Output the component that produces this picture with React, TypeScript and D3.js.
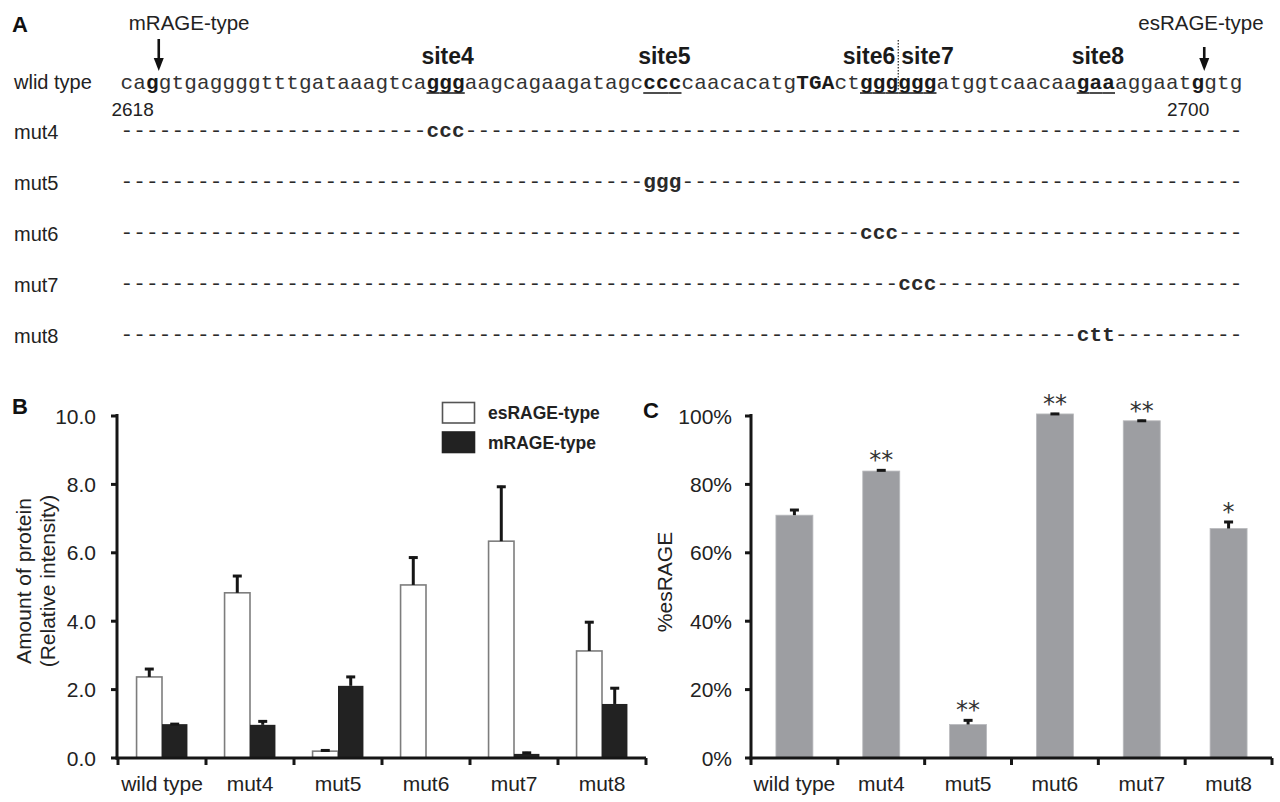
import React from "react";
import * as d3 from "d3";

// ---------------- data ----------------
const categories = ["wild type", "mut4", "mut5", "mut6", "mut7", "mut8"];
const esRAGEAmount = [2.37, 4.83, 0.2, 5.06, 6.34, 3.13];
const esRAGEAmountErr = [0.26, 0.52, 0.05, 0.83, 1.62, 0.87];
const mRAGEAmount = [0.99, 0.97, 2.11, 0.02, 0.12, 1.58];
const mRAGEAmountErr = [0.03, 0.13, 0.29, 0.0, 0.06, 0.49];
const pctEsRAGE = [71.0, 83.9, 9.8, 100.6, 98.6, 67.1];
const pctEsRAGEErr = [1.8, 0.5, 1.5, 0.3, 0.3, 2.2];
const pctStars = ["", "**", "**", "**", "**", "*"];
const amountTicks = [0, 2, 4, 6, 8, 10];
const pctTicks = [0, 20, 40, 60, 80, 100];
const legendLabels = ["esRAGE-type", "mRAGE-type"];

const wildTypeLabel = "wlid type";
// [text, style]  b = bold, u = underlined
const seqSegments: [string, string][] = [
  ["ca", ""], ["g", "b"], ["gtgaggggtttgataaagtca", ""], ["ggg", "bu"],
  ["aagcagaagatagc", ""], ["ccc", "bu"], ["caacacatg", ""], ["TGA", "b"],
  ["ct", ""], ["gggggg", "bu"], ["atggtcaacaa", ""], ["gaa", "bu"],
  ["aggaat", ""], ["g", "b"], ["gtg", ""],
];
const siteLabels = ["site4", "site5", "site6", "site7", "site8"];
const siteStarts = [24, 41, 58, 61, 75];
const mutLabels = ["mut4", "mut5", "mut6", "mut7", "mut8"];
const mutStarts = [24, 41, 58, 61, 75];
const mutBases = ["ccc", "ggg", "ccc", "ccc", "ctt"];
const positionLabels = ["2618", "2700"];
const positionIdx = [2, 84];
const spliceLabels = ["mRAGE-type", "esRAGE-type"];

// ---------------- helpers ----------------
const SANS = "'Liberation Sans', Arial, Helvetica, sans-serif";
const MONO = "'Liberation Mono', 'Courier New', monospace";

const seqChars: { c: string; b: boolean; u: boolean }[] = [];
seqSegments.forEach(([t, s]) => {
  for (const c of t) seqChars.push({ c, b: s.includes("b"), u: s.includes("u") });
});
const N = seqChars.length;

export default function App() {
  const W = 1280, H = 802;

  // Panel A
  const seqX = d3.scaleLinear().domain([0, N]).range([120.5, 1242.5]);
  const cw = seqX(1) - seqX(0);
  const seqBase = 89;
  const rowY = d3.scaleLinear().domain([0, 1]).range([137, 188]);
  const posLabelShift = [-5, 5];

  // Panel B
  const yB = d3.scaleLinear().domain([0, 10]).range([758, 416]);
  const xB = d3.scaleBand().domain(categories).range([118, 646]).padding(0);
  const subB = d3.scaleBand().domain(["es", "m"]).range([0, xB.bandwidth()]).paddingInner(0).paddingOuter(0.73);

  // Panel C
  const yC = d3.scaleLinear().domain([0, 100]).range([758, 416]);
  const xC = d3.scaleBand().domain(categories).range([751, 1272]).paddingInner(0.574).paddingOuter(0.287);
  const stepC = xC.step();
  const stepB = xB.step();

  const axisColor = "#161616";
  const errW = 3;

  const errBar = (cx: number, y0: number, y1: number, key: string) => (
    <g key={key}>
      <line x1={cx} x2={cx} y1={y0} y2={y1} stroke={axisColor} strokeWidth={errW} />
      <line x1={cx - 4.5} x2={cx + 4.5} y1={y1 + 1} y2={y1 + 1} stroke={axisColor} strokeWidth={3} />
    </g>
  );

  return (
    <svg width={W} height={H} style={{ position: "absolute", left: 0, top: 0, background: "#fff" }}>
      <rect x={0} y={0} width={W} height={H} fill="#fff" />
      {/* ---------------- Panel A ---------------- */}
      <text x={12} y={32} fontFamily={SANS} fontWeight="bold" fontSize={22} fill="#111">A</text>
      {spliceLabels.map((lab, i) => {
        const ax = seqX(positionIdx[i] + 1);
        const tx = i === 0 ? ax - 30 : ax - 66;
        const yTop = i === 0 ? 39 : 47;
        return (
          <g key={lab}>
            <text x={tx} y={30} fontFamily={SANS} fontSize={20.5} fill="#222">{lab}</text>
            <line x1={ax} x2={ax} y1={yTop} y2={60} stroke="#111" strokeWidth={2.6} />
            <path d={`M${ax - 5},${58} L${ax + 5},${58} L${ax},${71} Z`} fill="#111" />
          </g>
        );
      })}
      {siteLabels.map((lab, i) => {
        const s = siteStarts[i];
        let x = seqX(s + 1.5) + 2;
        let anchor: "middle" | "start" | "end" = "middle";
        if (lab === "site6") { x = seqX(61) - 3; anchor = "end"; }
        if (lab === "site7") { x = seqX(61) + 3; anchor = "start"; }
        return (
          <text key={lab} x={x} y={64} textAnchor={anchor} fontFamily={SANS} fontWeight="bold" fontSize={23} fill="#1a1a1a">{lab}</text>
        );
      })}
      <line x1={seqX(61)} x2={seqX(61)} y1={40} y2={90} stroke="#222" strokeWidth={1.2} strokeDasharray="1.5,1.5" />
      <text x={14} y={seqBase} fontFamily={SANS} fontSize={20} fill="#222">{wildTypeLabel}</text>
      {seqChars.map((ch, i) => (
        <text key={"s" + i} x={seqX(i) + cw / 2} y={seqBase} textAnchor="middle" fontFamily={MONO}
          fontWeight={ch.b ? "bold" : "normal"} fontSize={21} fill={ch.b ? "#1a1a1a" : "#333"}>{ch.c}</text>
      ))}
      {seqChars.map((ch, i) => ch.u ? (
        <line key={"u" + i} x1={seqX(i)} x2={seqX(i + 1)} y1={seqBase + 4} y2={seqBase + 4} stroke="#222" strokeWidth={1.6} />
      ) : null)}
      {positionLabels.map((lab, i) => (
        <text key={lab} x={seqX(positionIdx[i] + 1) + posLabelShift[i]} y={116} textAnchor="end" fontFamily={SANS} fontSize={19} fill="#222">{lab}</text>
      ))}
      {mutLabels.map((lab, r) => {
        const y = rowY(r);
        const chars: string[] = [];
        for (let i = 0; i < N; i++) {
          const k = i - mutStarts[r];
          chars.push(k >= 0 && k < mutBases[r].length ? mutBases[r][k] : "-");
        }
        return (
          <g key={lab}>
            <text x={14} y={y + 2} fontFamily={SANS} fontSize={20} fill="#222">{lab}</text>
            {chars.map((c, i) => (
              <text key={i} x={seqX(i) + cw / 2} y={y} textAnchor="middle" fontFamily={MONO}
                fontWeight={c === "-" ? "normal" : "bold"} fontSize={21} fill="#2a2a2a">{c}</text>
            ))}
          </g>
        );
      })}

      {/* ---------------- Panel B ---------------- */}
      <text x={12} y={414} fontFamily={SANS} fontWeight="bold" fontSize={22} fill="#111">B</text>
      {categories.map((c, i) => {
        const x0 = xB(c)!;
        const xe = x0 + subB("es")!;
        const xm = x0 + subB("m")!;
        const bw = subB.bandwidth();
        return (
          <g key={c}>
            <rect x={xe} y={yB(esRAGEAmount[i])} width={bw} height={yB(0) - yB(esRAGEAmount[i])}
              fill="#fff" stroke="#7d7d7d" strokeWidth={1.6} />
            {errBar(xe + bw / 2, yB(esRAGEAmount[i]), yB(esRAGEAmount[i] + esRAGEAmountErr[i]), "ee" + i)}
            <rect x={xm} y={yB(mRAGEAmount[i])} width={bw} height={yB(0) - yB(mRAGEAmount[i])} fill="#222" />
            {mRAGEAmountErr[i] > 0 ? errBar(xm + bw / 2, yB(mRAGEAmount[i]), yB(mRAGEAmount[i] + mRAGEAmountErr[i]), "me" + i) : null}
          </g>
        );
      })}
      <line x1={117} x2={117} y1={yB(10) - 2} y2={yB(0) + 1.5} stroke={axisColor} strokeWidth={3} />
      <line x1={115.5} x2={118 + 6 * stepB} y1={yB(0)} y2={yB(0)} stroke={axisColor} strokeWidth={3} />
      {amountTicks.map((t) => (
        <g key={t}>
          <line x1={111} x2={117} y1={yB(t)} y2={yB(t)} stroke={axisColor} strokeWidth={3} />
          <text x={96} y={yB(t)} dy="0.36em" textAnchor="end" fontFamily={SANS} fontSize={21} fill="#222">{d3.format(".1f")(t)}</text>
        </g>
      ))}
      {d3.range(7).map((i) => (
        <line key={i} x1={118 + i * stepB} x2={118 + i * stepB} y1={yB(0)} y2={yB(0) + 7} stroke={axisColor} strokeWidth={3} />
      ))}
      {categories.map((c) => (
        <text key={c} x={xB(c)! + xB.bandwidth() / 2} y={791} textAnchor="middle" fontFamily={SANS} fontSize={21} fill="#222">{c}</text>
      ))}
      <text transform="translate(31,581) rotate(-90)" textAnchor="middle" fontFamily={SANS} fontSize={21} fill="#222">Amount of protein</text>
      <text transform="translate(55,581) rotate(-90)" textAnchor="middle" fontFamily={SANS} fontSize={21} fill="#222">(Relative intensity)</text>
      {legendLabels.map((lab, i) => (
        <g key={lab}>
          <rect x={442.5} y={402.5 + i * 29.5} width={32} height={20.5}
            fill={i === 0 ? "#fff" : "#222"} stroke={i === 0 ? "#555" : "#222"} strokeWidth={1.6} />
          <text x={488} y={413 + i * 29.5} dy="0.36em" fontFamily={SANS} fontWeight="bold" fontSize={17.5} fill="#222">{lab}</text>
        </g>
      ))}

      {/* ---------------- Panel C ---------------- */}
      <text x={643} y={418} fontFamily={SANS} fontWeight="bold" fontSize={22} fill="#111">C</text>
      {categories.map((c, i) => {
        const x = xC(c)!;
        const bw = xC.bandwidth();
        const v = pctEsRAGE[i];
        const top = yC(v + pctEsRAGEErr[i]);
        return (
          <g key={c}>
            <rect x={x} y={yC(v)} width={bw} height={yC(0) - yC(v)} fill="#9d9ea2" stroke="#b9babd" strokeWidth={0.8} />
            {errBar(x + bw / 2, yC(v), top, "ce" + i)}
            {pctStars[i] ? (
              <text x={x + bw / 2} y={top - 1} textAnchor="middle" fontFamily="'DejaVu Sans', sans-serif" fontSize={24} fill="#333">{pctStars[i]}</text>
            ) : null}
          </g>
        );
      })}
      <line x1={751} x2={751} y1={yC(100) - 2} y2={yC(0) + 1.5} stroke={axisColor} strokeWidth={3} />
      <line x1={749.5} x2={751 + 6 * stepC} y1={yC(0)} y2={yC(0)} stroke={axisColor} strokeWidth={3} />
      {pctTicks.map((t) => (
        <g key={t}>
          <line x1={745} x2={751} y1={yC(t)} y2={yC(t)} stroke={axisColor} strokeWidth={3} />
          <text x={732} y={yC(t)} dy="0.36em" textAnchor="end" fontFamily={SANS} fontSize={21} fill="#222">{t + "%"}</text>
        </g>
      ))}
      {d3.range(7).map((i) => (
        <line key={i} x1={751 + i * stepC} x2={751 + i * stepC} y1={yC(0)} y2={yC(0) + 7} stroke={axisColor} strokeWidth={3} />
      ))}
      {categories.map((c) => (
        <text key={c} x={xC(c)! + xC.bandwidth() / 2} y={791} textAnchor="middle" fontFamily={SANS} fontSize={21} fill="#222">{c}</text>
      ))}
      <text transform="translate(672,582) rotate(-90)" textAnchor="middle" fontFamily={SANS} fontSize={21} fill="#222">%esRAGE</text>
    </svg>
  );
}
